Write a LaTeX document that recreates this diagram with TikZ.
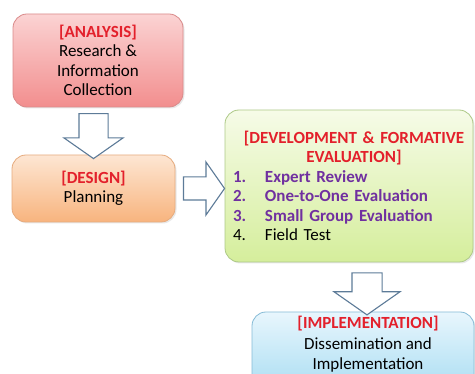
\documentclass[tikz,border=0pt]{standalone}
\usepackage{fontspec}
\setmainfont{Carlito}
\usepackage{xcolor}
\usetikzlibrary{calc,
                positioning,
                shapes.arrows,
                shadows}

\definecolor{headred}{HTML}{E3202B}
\definecolor{itempurple}{HTML}{7030A0}
\definecolor{arrowline}{HTML}{5D7B98}
\definecolor{analysistop}{HTML}{FBD3D3}
\definecolor{analysisbot}{HTML}{F28E8E}
\definecolor{analysisline}{HTML}{D98A8A}
\definecolor{designtop}{HTML}{FDE6D3}
\definecolor{designbot}{HTML}{F8B47E}
\definecolor{designline}{HTML}{E6AB7E}
\definecolor{devtop}{HTML}{F6FBE8}
\definecolor{devbot}{HTML}{D5EE9C}
\definecolor{devline}{HTML}{ADC987}
\definecolor{impltop}{HTML}{E8F6FD}
\definecolor{implbot}{HTML}{A9DDF2}
\definecolor{implline}{HTML}{86BBD6}

\newcommand{\stagehead}[1]{{\bfseries\color{headred}#1}}
\newcommand{\listnum}[1]{\makebox[32pt][l]{#1}}

\tikzset{
  stagebox/.style={rounded corners=14pt, line width=0.8pt, align=center,
                   font=\fontsize{17}{19.5}\selectfont,
                   drop shadow={opacity=0.18, shadow xshift=1.5pt, shadow yshift=-1.5pt}},
  blockarrow/.style={single arrow, draw=arrowline, fill=white, line width=1.1pt,
                     inner xsep=0pt, single arrow tip angle=110}
}

\begin{document}
\begin{tikzpicture}[x=1pt, y=-1pt]
\clip (0,0) rectangle (475,374);

% the four stages
\node[stagebox, draw=analysisline, top color=analysistop, bottom color=analysisbot,
      minimum width=170pt, minimum height=93pt] (analysis) at (98,60.5)
  {\stagehead{[ANALYSIS]}\\Research \&\\Information\\Collection};

\node[stagebox, draw=designline, top color=designtop, bottom color=designbot,
      minimum width=163pt, minimum height=67pt] (design) at (93.5,188.5)
  {\stagehead{[DESIGN]}\\Planning};

\node[stagebox, draw=devline, top color=devtop, bottom color=devbot,
      minimum width=248pt, minimum height=152pt, text width=232pt, align=left] (dev) at (349,186)
  {\stagehead{\centering\advance\leftskip 10pt[DEVELOPMENT \& FORMATIVE\\EVALUATION]\par}
   {\bfseries\color{itempurple}\listnum{1.}Expert Review\\
    \listnum{2.}One-to-One Evaluation\\
    \listnum{3.}Small Group Evaluation}\\
   \listnum{4.}Field Test};

\node[stagebox, draw=implline, top color=impltop, bottom color=implbot,
      minimum width=222pt, minimum height=80pt] (impl) at (363,352) {};
\node[align=center, font=\fontsize{17}{20.5}\selectfont] (impltext) at ($(impl.north)+(5,33)$)
  {\stagehead{[IMPLEMENTATION]}\\Dissemination and\\Implementation};

% block arrows between the stages
\node[blockarrow, rotate=-90, inner ysep=14pt, single arrow head extend=15pt,
      minimum height=45pt] (down1) at ($(design.north)!0.5!(design.north |- analysis.south)$) {};
\node[blockarrow, inner ysep=11pt, single arrow head extend=15pt,
      minimum height=41pt] (right1) at ($(design.east)!0.5!(design.east -| dev.west)$) {};
\node[blockarrow, rotate=-90, inner ysep=14.5pt, single arrow head extend=18pt,
      minimum height=42pt] (down2) at ($(impl.north)+(4,-23)$) {};
\end{tikzpicture}
\end{document}
